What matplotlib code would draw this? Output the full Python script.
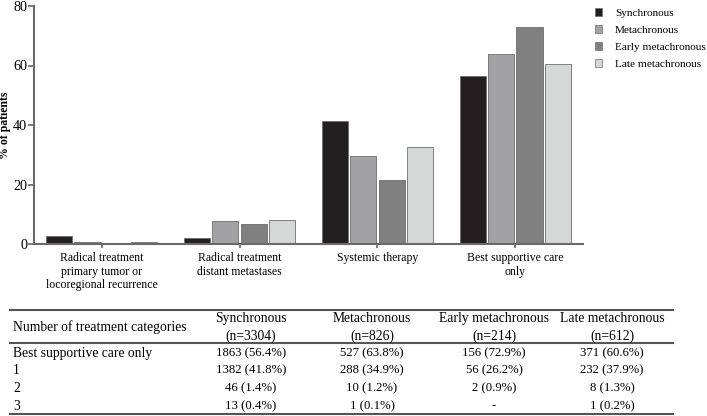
import numpy as np
import matplotlib
matplotlib.use("Agg")
import matplotlib.pyplot as plt
from matplotlib.patches import Patch

plt.rcParams['font.family'] = ['Liberation Serif', 'DejaVu Serif']

# chart data
categories = ["Radical treatment\nprimary tumor or\nlocoregional recurrence",
              "Radical treatment\ndistant metastases",
              "Systemic therapy",
              "Best supportive care\nonly"]
series = ["Synchronous", "Metachronous", "Early metachronous", "Late metachronous"]
synchronous = [2.7, 1.9, 41.5, 56.4]
metachronous = [0.6, 7.7, 29.6, 63.8]
early_meta = [0.0, 6.6, 21.5, 72.9]
late_meta = [0.6, 8.0, 32.6, 60.6]
colors = ["#231f20", "#a2a2a4", "#808080", "#d6d7d7"]

# table data
table_header = ["Number of treatment categories",
                "Synchronous\n(n=3304)", "Metachronous\n(n=826)",
                "Early metachronous\n(n=214)", "Late metachronous\n(n=612)"]
row_labels = ["Best supportive care only", "1", "2", "3"]
col_sync = ["1863 (56.4%)", "1382 (41.8%)", "46 (1.4%)", "13 (0.4%)"]
col_meta = ["527 (63.8%)", "288 (34.9%)", "10 (1.2%)", "1 (0.1%)"]
col_early = ["156 (72.9%)", "56 (26.2%)", "2 (0.9%)", "-"]
col_late = ["371 (60.6%)", "232 (37.9%)", "8 (1.3%)", "1 (0.2%)"]

fig = plt.figure(figsize=(7.07, 4.16), dpi=100)
W, H = 707, 416

# ---- bar chart ----
ax = fig.add_axes([34 / W, 1 - 244 / H, (583 - 34) / W, (244 - 6) / H])
x = np.arange(len(categories))
bw = 0.19
step = 0.205
for i, (vals, c) in enumerate(zip([synchronous, metachronous, early_meta, late_meta], colors)):
    ax.bar(x + (i - 1.5) * step, vals, bw, color=c, edgecolor="#6e6e6e",
           linewidth=0.6, label=series[i], zorder=2)

ax.set_xlim(-0.49, 3.49)
ax.set_ylim(0, 80)
ax.set_yticks([0, 20, 40, 60, 80])
ax.set_xticks(x)
ax.set_xticklabels(categories, fontsize=8.5, linespacing=1.15)
ax.tick_params(axis='y', labelsize=10.2, length=4, width=1.2, color="#666666", pad=1)
ax.tick_params(axis='x', length=3, width=1.2, color="#666666", pad=3)
for s in ["top", "right"]:
    ax.spines[s].set_visible(False)
for s in ["left", "bottom"]:
    ax.spines[s].set_color("#6a6a6a")
    ax.spines[s].set_linewidth(1.5)
ax.set_ylabel("% of patients", fontsize=8.5, fontweight="bold")
ax.yaxis.set_label_coords(-0.041, 0.5)

handles = [Patch(facecolor=c, edgecolor="#6e6e6e", linewidth=0.5) for c in colors]
fig.legend(handles, series, loc="upper left", bbox_to_anchor=(590 / W, 1 - 4 / H),
           frameon=False, fontsize=8.1, handlelength=0.7, handleheight=0.7,
           handletextpad=1.1, labelspacing=0.62, borderaxespad=0)

# ---- table ----
tx = fig.add_axes([0, 0, 1, 1])
tx.set_xlim(0, W)
tx.set_ylim(H, 0)
tx.axis("off")

tx.plot([10, 673], [310, 310], color="#555555", lw=1.5)
tx.plot([10, 673], [343, 343], color="#555555", lw=1.5)
tx.plot([10, 673], [413.5, 413.5], color="#555555", lw=1.5)

col_x = [251, 372, 494, 612]
fs_txt = 9.8
fs_num = 9.2
tx.text(13, 327, table_header[0], fontsize=fs_txt, ha="left", va="center")
for cx, h in zip(col_x, table_header[1:]):
    tx.text(cx, 327.5, h, fontsize=fs_txt, ha="center", va="center", linespacing=1.45)

row_y = [353, 370.5, 388.5, 406]
for ry, lab, a, b, c, d in zip(row_y, row_labels, col_sync, col_meta, col_early, col_late):
    tx.text(13, ry, lab, fontsize=fs_txt, ha="left", va="center")
    for cx, v in zip(col_x, [a, b, c, d]):
        tx.text(cx, ry, v, fontsize=fs_num, ha="center", va="center")

fig.savefig("out.png", dpi=100)
